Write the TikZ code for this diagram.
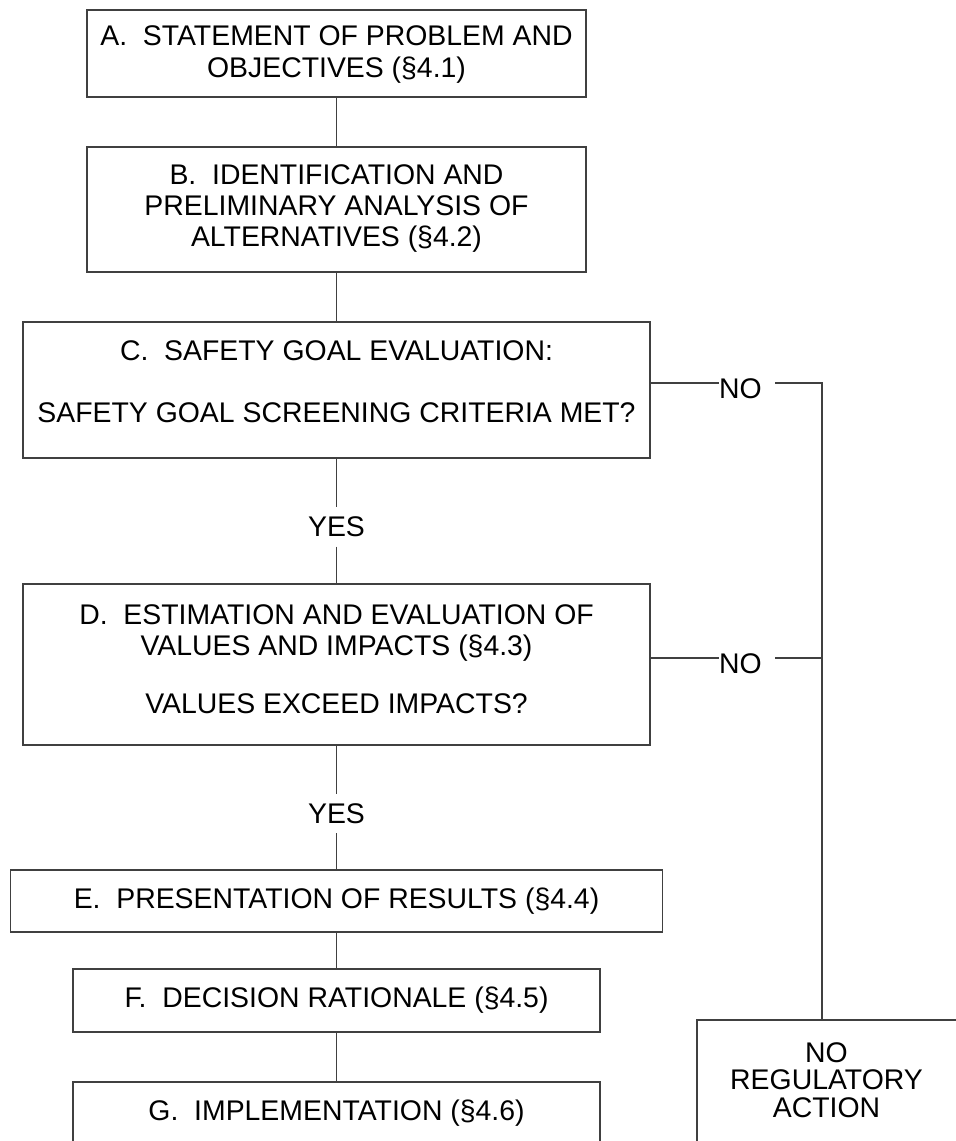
\documentclass[tikz,border=0pt]{standalone}
\usepackage{fontspec}
\setmainfont{Liberation Sans}
\begin{document}
\begin{tikzpicture}[x=1pt,y=-1pt,
  box/.style={draw=black!75, line width=1.3pt, inner sep=0pt},
  txt/.style={align=center, inner sep=0pt, font=\fontsize{28.4}{31}\selectfont},
  lbl/.style={inner sep=0pt, font=\fontsize{28.4}{31}\selectfont},
  conn/.style={draw=black!75, line width=1.3pt}]
\clip (0,0) rectangle (956,1141);
% boxes
\node[box, minimum width=499, minimum height=87] (A) at (336.5,53.5) {};
\node[txt, font=\fontsize{28.4}{32}\selectfont] (At) at ([yshift=-1.5pt]A.center) {A.\ \ STATEMENT OF PROBLEM AND\\OBJECTIVES (§4.1)};
\node[box, minimum width=499, minimum height=125] (B) at (336.5,209.5) {};
\node[txt] (Bt) at ([yshift=1pt]B.center) {B.\ \ IDENTIFICATION AND\\PRELIMINARY ANALYSIS OF\\ALTERNATIVES (§4.2)};
\node[box, minimum width=627, minimum height=136] (C) at (336.5,390) {};
\node[txt] (Ct) at ([yshift=8pt]C.center) {C.\ \ SAFETY GOAL EVALUATION:\\[31pt]SAFETY GOAL SCREENING CRITERIA MET?};
\node[box, minimum width=627, minimum height=161] (D) at (336.5,664.5) {};
\node[txt] (Dt) at ([yshift=5pt]D.center) {D.\ \ ESTIMATION AND EVALUATION OF\\VALUES AND IMPACTS (§4.3)\\[27pt]VALUES EXCEED IMPACTS?};
\node[box, minimum width=652, minimum height=62] (E) at (336.5,901) {};
\node[txt] (Et) at (E.center) {E.\ \ PRESENTATION OF RESULTS (§4.4)};
\node[box, minimum width=527, minimum height=63] (F) at (336.5,1000.5) {};
\node[txt] (Ft) at (F.center) {F.\ \ DECISION RATIONALE (§4.5)};
\node[box, minimum width=527, minimum height=63] (G) at (336.5,1113.5) {};
\node[txt] (Gt) at (G.center) {G.\ \ IMPLEMENTATION (§4.6)};
\node[box, minimum width=261, minimum height=125] (N) at (827.5,1082.5) {};
\node[txt, font=\fontsize{28.4}{27.5}\selectfont] (Nt) at (826.5,1080) {NO\\REGULATORY\\ACTION};
% labels
\node[lbl, minimum height=39] (y1) at (336.5,527) {YES};
\node[lbl, minimum height=39] (y2) at (336.5,813.5) {YES};
\node[lbl, anchor=west] (n1) at (719,389) {NO};
\node[lbl, anchor=west] (n2) at (719,664) {NO};
\coordinate (j1) at (822,383);
\coordinate (j2) at (822,658);
% connectors
\draw[conn] (A.south) -- (B.north);
\draw[conn] (B.south) -- (C.north);
\draw[conn] (C.south) -- (y1.north);
\draw[conn] (y1.south) -- (D.north);
\draw[conn] (D.south) -- (y2.north);
\draw[conn] (y2.south) -- (E.north);
\draw[conn] (E.south) -- (F.north);
\draw[conn] (F.south) -- (G.north);
\draw[conn] (j1 -| C.east) -- (j1 -| n1.west);
\draw[conn] ([xshift=13pt]j1 -| n1.east) -- (j1) -- (j1 |- N.north);
\draw[conn] (j2 -| D.east) -- (j2 -| n2.west);
\draw[conn] ([xshift=13pt]j2 -| n2.east) -- (j2);
\end{tikzpicture}
\end{document}
